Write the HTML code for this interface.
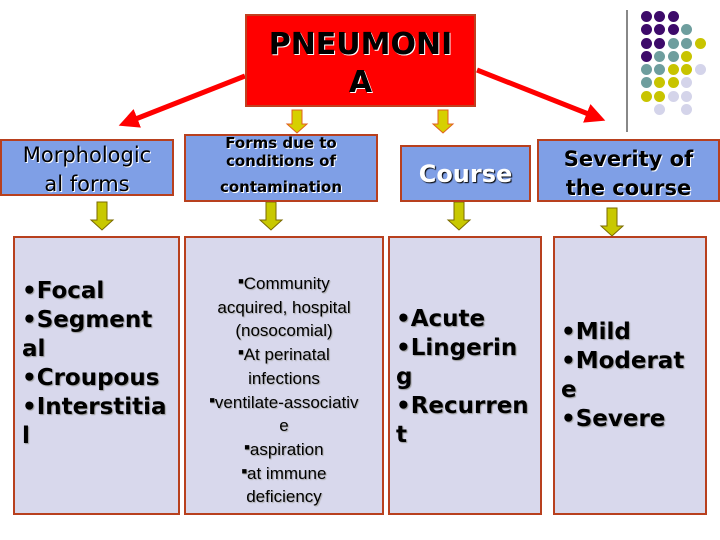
<!DOCTYPE html>
<html><head><meta charset="utf-8"><style>
body{margin:0;width:720px;height:540px;background:#fff;position:relative;overflow:hidden;font-family:"DejaVu Sans","Liberation Sans",sans-serif}
.b{position:absolute;box-sizing:border-box;border:2px solid #b8401e}
.top{background:#7f9fe6}
.low{background:#d8d8ec}
.t{position:absolute;left:0;right:0;text-align:center;color:#000}
.bl{font-weight:bold;font-size:23px;line-height:29px;text-shadow:1px 1px 1px #999;white-space:nowrap}
.sq{font-size:9px;vertical-align:5px;line-height:0}
.dot{position:absolute;width:11px;height:11px;border-radius:50%}
</style></head><body>
<svg width="720" height="540" style="position:absolute;left:0;top:0">
<defs>
<marker id="r" markerWidth="4" markerHeight="4" refX="2" refY="2" orient="auto"><path d="M0,0L4,2L0,4z" fill="#f00"/></marker>
</defs>
<line x1="245" y1="76" x2="128" y2="122" stroke="#f00" stroke-width="5" marker-end="url(#r)"/>
<line x1="477" y1="70" x2="596" y2="117" stroke="#f00" stroke-width="5" marker-end="url(#r)"/>
<line x1="627" y1="10" x2="627" y2="132" stroke="#888" stroke-width="2"/>
<g fill="#c8c800" stroke="#7a6a00" stroke-width="1">
<path d="M292,110h10v14h5l-10,9l-10,-9h5z" fill="#d6d000" stroke="#e06020"/>
<path d="M438,110h10v14h5l-10,9l-10,-9h5z" fill="#d6d000" stroke="#e06020"/>
<path d="M97,202h10v18h6l-11,10l-11,-10h6z"/>
<path d="M266,202h10v18h6l-11,10l-11,-10h6z"/>
<path d="M454,202h10v18h6l-11,10l-11,-10h6z"/>
<path d="M607,208h10v18h6l-11,10l-11,-10h6z"/>
</g>
</svg>
<div class="b" style="left:245px;top:14px;width:231px;height:93px;background:#f00;border-color:#c04020">
<div class="t" style="top:10px;font-size:30px;line-height:38px;font-weight:bold;text-shadow:1px 1px 0 #fff">PNEUMONI<br>A</div></div>
<div class="b top" style="left:0;top:139px;width:174px;height:57px"><div class="t" style="top:0;font-size:21px;line-height:29px;text-shadow:1px 1px 0 #fff">Morphologic<br>al forms</div></div>
<div class="b top" style="left:184px;top:134px;width:194px;height:68px"><div class="t" style="top:-2px;font-size:15px;line-height:18px;font-weight:bold;text-shadow:1px 1px 0 #fff">Forms due to<br>conditions of<br><span style="line-height:34px">contamination</span></div></div>
<div class="b top" style="left:400px;top:145px;width:131px;height:57px"><div class="t" style="top:13px;font-size:24px;line-height:28px;font-weight:bold;color:#fff;text-shadow:1px 1px 1px #000">Course</div></div>
<div class="b top" style="left:537px;top:139px;width:183px;height:63px"><div class="t" style="top:4px;font-size:21px;line-height:29px;font-weight:bold;text-shadow:1px 1px 0 #fff">Severity of<br>the course</div></div>
<div class="b low" style="left:13px;top:236px;width:167px;height:279px"><div class="bl" style="position:absolute;left:7px;top:39px">•Focal<br>•Segment<br>al<br>•Croupous<br>•Interstitia<br>l</div></div>
<div class="b low" style="left:184px;top:236px;width:200px;height:279px"><div class="t" style="top:34px;font-family:'Liberation Sans',sans-serif;font-size:17px;line-height:23.7px;text-shadow:1px 1px 1px #aaa"><span class="sq">■</span>Community<br>acquired, hospital<br>(nosocomial)<br><span class="sq">■</span>At perinatal<br>infections<br><span class="sq">■</span>ventilate-associativ<br>e<br><span class="sq">■</span>aspiration<br><span class="sq">■</span>at immune<br>deficiency</div></div>
<div class="b low" style="left:388px;top:236px;width:154px;height:279px"><div class="bl" style="position:absolute;left:6px;top:67px">•Acute<br>•Lingerin<br>g<br>•Recurren<br>t</div></div>
<div class="b low" style="left:553px;top:236px;width:154px;height:279px"><div class="bl" style="position:absolute;left:6px;top:80px">•Mild<br>•Moderat<br>e<br>•Severe</div></div>
<div id="dots"></div>
<script>
var P="#3d0a6a",T="#6e9e9e",Y="#c8c400",L="#d4d4ea";
var rows=[[P,P,P],[P,P,P,T],[P,P,T,T,Y],[P,T,T,Y],[T,T,Y,Y,L],[T,Y,Y,L],[Y,Y,L,L],[0,L,0,L]];
var ys=[16,29,43,56,69,82,96,109],h="";
rows.forEach(function(r,i){r.forEach(function(c,j){if(c)h+='<div class="dot" style="left:'+(641+j*13.4)+'px;top:'+(ys[i]-5)+'px;background:'+c+'"></div>';});});
document.getElementById("dots").innerHTML=h;
</script>
</body></html>
